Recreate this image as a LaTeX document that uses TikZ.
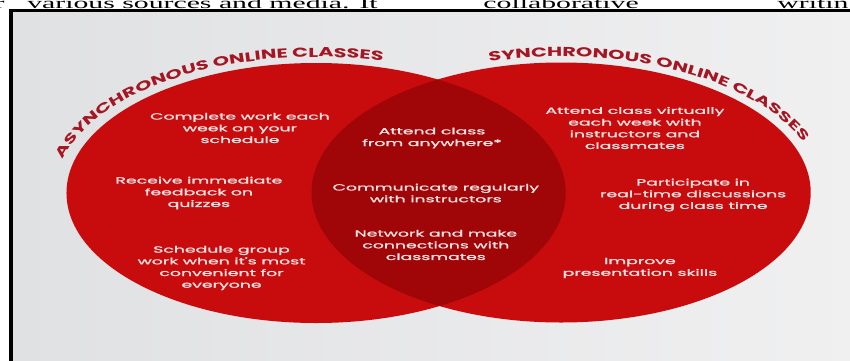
\documentclass[tikz,border=0pt]{standalone}
\usepackage{fontspec}
\setmainfont{Liberation Serif}
\newfontfamily\vennfont{Poppins}[FakeBold=1]
\newfontfamily\titlefont{Poppins}[FakeStretch=1.6]
\usetikzlibrary{decorations.text}
\definecolor{vennred}{RGB}{200,12,14}
\definecolor{lensred}{RGB}{160,5,8}
\definecolor{titlered}{RGB}{165,22,34}
\definecolor{pale}{RGB}{246,228,228}
\definecolor{paperL}{RGB}{224,225,227}
\definecolor{paperR}{RGB}{240,240,241}

\begin{document}
\begin{tikzpicture}[x=1pt,y=1pt,
    item/.style={align=center,text=pale,inner sep=0pt,
      font=\vennfont\fontsize{9}{11.7}\selectfont},
    word/.style={inner sep=0pt,anchor=base west,
      font=\fontsize{15.5}{16}\selectfont},
    arctitle/.style={decorate,decoration={text along path,text align=left,
      text={|\titlefont\bfseries\fontsize{13}{13}\selectfont\color{titlered}|#1}}}]
\useasboundingbox (0,0) rectangle (850,360);
\clip (0,0) rectangle (850,360);
\fill[white] (0,0) rectangle (850,360);
\shade[left color=paperL,right color=paperR] (11,-5) rectangle (860,349.5);
\draw[line width=3.5pt] (11,-5) |- (860,349.5);
\begin{scope}[xscale=1.92,transform shape]
  % cut-off line of the page above
  \node[word,anchor=base east] (w0) at (2.6,352) {r};
  \node[word] (w1) at (14,352) {various sources and media. It};
  \node[word] (w2) at (251.6,352) {collaborative};
  \node[word] (w3) at (404.7,352) {writing};

  \coordinate (lc) at (164.6,167);
  \coordinate (rc) at (292.2,167.5);
  \fill[vennred] (lc) circle[radius=130] (rc) circle[radius=130];
  \begin{scope}
    \clip (lc) circle[radius=130];
    \fill[lensred] (rc) circle[radius=130];
  \end{scope}

  \path[arctitle=ASYNCHRONOUS ONLINE CLASSES]
    ([shift={(166:136)}]lc) arc[start angle=166,end angle=40,radius=136];
  \path[arctitle=SYNCHRONOUS ONLINE CLASSES]
    ([shift={(106:136)}]rc) arc[start angle=106,end angle=-20,radius=136];

  \node[item] (comp) at (125,232) {Complete work each\\week on your\\schedule};
  \node[item] (recv) at (103.6,167) {Receive immediate\\feedback on\\quizzes};
  \node[item] (sched) at (115.4,92) {Schedule group\\work when it's most\\convenient for\\everyone};

  \node[item] (anyw) at (225,222) {Attend class\\from anywhere*};
  \node[item] (comm) at (227,167) {Communicate regularly\\with instructors};
  \node[item] (netw) at (227,115) {Network and make\\connections with\\classmates};

  \node[item] (virt) at (330.7,232) {Attend class virtually\\each week with\\instructors and\\classmates};
  \node[item] (part) at (361,165) {Participate in\\real-time discussions\\during class time};
  \node[item] (impr) at (333.3,92) {Improve\\presentation skills};
\end{scope}
\end{tikzpicture}
\end{document}
